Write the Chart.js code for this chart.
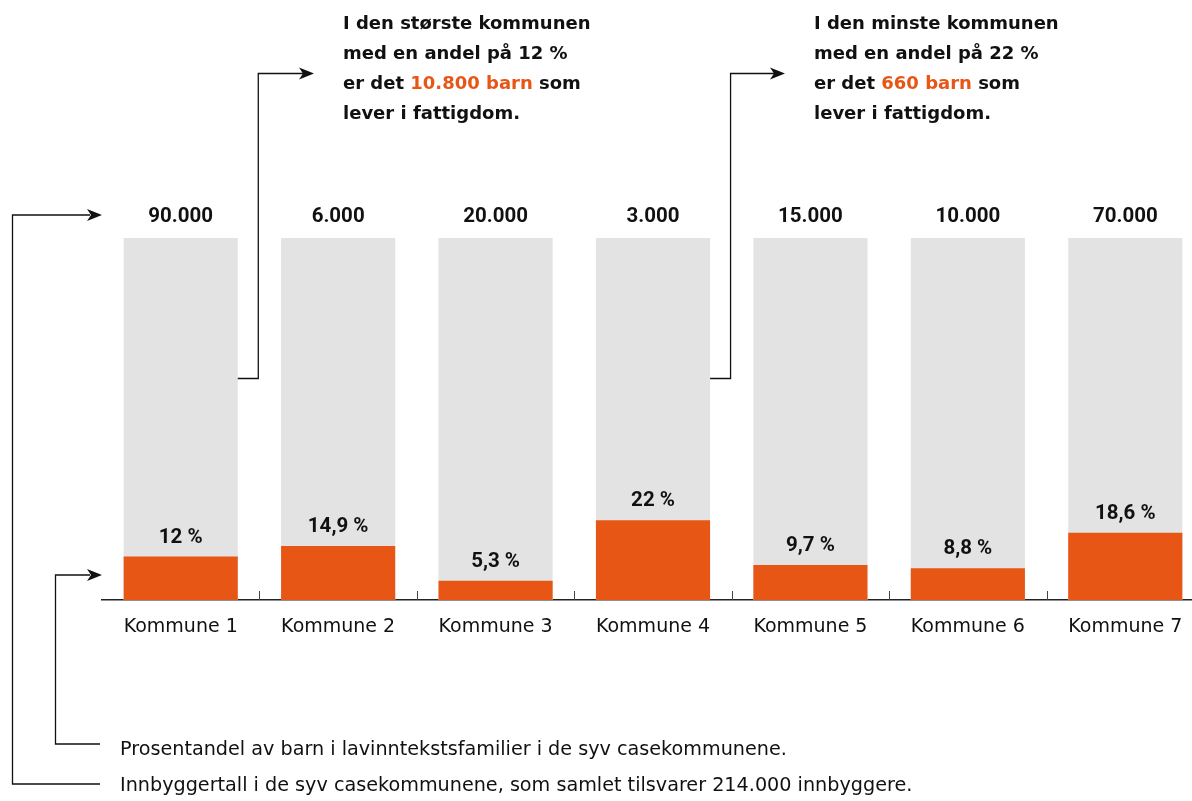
<!DOCTYPE html>
<html>
<head>
<meta charset="utf-8">
<script src="https://cdn.jsdelivr.net/npm/chart.js@4"></script>
<style>
  html, body { margin: 0; padding: 0; background: #fff; overflow: hidden; }
  #wrap { position: absolute; left: 0; top: 0; }
</style>
</head>
<body>
<div id="wrap"><canvas id="chart" width="1210" height="801"></canvas></div>
<script>
// data
const kommuner = ['Kommune 1', 'Kommune 2', 'Kommune 3', 'Kommune 4', 'Kommune 5', 'Kommune 6', 'Kommune 7'];
const innbyggere = [90000, 6000, 20000, 3000, 15000, 10000, 70000];
const andel = [12, 14.9, 5.3, 22, 9.7, 8.8, 18.6];
const fullBar = kommuner.map(() => 100);

const ORANGE = '#e85615';
const GREY = '#e2e3e2';
const INK = '#111';

function fmtNum(n) { return n.toString().replace(/\B(?=(\d{3})+(?!\d))/g, '.'); }
function fmtPct(p) { return p.toString().replace('.', ',') + ' %'; }

function arrowHead(ctx, x, y) {
  ctx.beginPath();
  ctx.moveTo(x, y);
  ctx.lineTo(x - 15, y - 6);
  ctx.lineTo(x - 11, y);
  ctx.lineTo(x - 15, y + 6);
  ctx.closePath();
  ctx.fill();
}

// draw a line of text made of [text, colour] runs
function richLine(ctx, runs, x, y) {
  runs.forEach(r => {
    ctx.fillStyle = r[1] || INK;
    ctx.fillText(r[0], x, y);
    x += ctx.measureText(r[0]).width;
  });
}

const overlay = {
  id: 'overlay',
  afterDraw(chart) {
    const ctx = chart.ctx;
    const xs = chart.scales.x;
    const area = chart.chartArea;
    const grey = chart.getDatasetMeta(0).data;
    const orange = chart.getDatasetMeta(1).data;
    ctx.save();

    // small tick marks between the categories
    ctx.strokeStyle = '#444';
    ctx.lineWidth = 1;
    for (let i = 1; i < kommuner.length; i++) {
      const x = Math.round((xs.getPixelForTick(i - 1) + xs.getPixelForTick(i)) / 2) + 0.5;
      ctx.beginPath();
      ctx.moveTo(x, area.bottom - 9);
      ctx.lineTo(x, area.bottom);
      ctx.stroke();
    }

    // value labels
    ctx.textAlign = 'center';
    ctx.textBaseline = 'middle';
    ctx.fillStyle = INK;
    ctx.font = 'bold 20.5px Roboto';
    grey.forEach((bar, i) => ctx.fillText(fmtNum(innbyggere[i]), bar.x, bar.y - 21));
    orange.forEach((bar, i) => ctx.fillText(fmtPct(andel[i]), bar.x, bar.y - 19));

    // connectors
    ctx.strokeStyle = '#111';
    ctx.fillStyle = '#111';
    ctx.lineWidth = 1.3;
    const top = grey[0].y;
    const bottom = area.bottom;

    // population bracket
    ctx.beginPath();
    ctx.moveTo(100, 784);
    ctx.lineTo(12.5, 784);
    ctx.lineTo(12.5, top - 23);
    ctx.lineTo(90, top - 23);
    ctx.stroke();
    arrowHead(ctx, 102, top - 23);

    // percentage bracket
    ctx.beginPath();
    ctx.moveTo(100, 744);
    ctx.lineTo(55.5, 744);
    ctx.lineTo(55.5, bottom - 25);
    ctx.lineTo(90, bottom - 25);
    ctx.stroke();
    arrowHead(ctx, 102, bottom - 25);

    // callouts from bar 1 and bar 4
    [[0, 343], [3, 814]].forEach(([i, tx]) => {
      const b = grey[i];
      const x0 = b.x + b.width / 2;
      const xv = x0 + 20.5;
      ctx.beginPath();
      ctx.moveTo(x0, 378.5);
      ctx.lineTo(xv, 378.5);
      ctx.lineTo(xv, 73.5);
      ctx.lineTo(tx - 40, 73.5);
      ctx.stroke();
      arrowHead(ctx, tx - 29, 73.5);
    });

    // callout texts
    ctx.textAlign = 'left';
    ctx.textBaseline = 'middle';
    ctx.font = 'bold 18px "DejaVu Sans"';
    const lh = 30;
    const t1 = [
      [['I den største kommunen']],
      [['med en andel på 12 %']],
      [['er det '], ['10.800 barn', ORANGE], [' som']],
      [['lever i fattigdom.']]
    ];
    const t2 = [
      [['I den minste kommunen']],
      [['med en andel på 22 %']],
      [['er det '], ['660 barn', ORANGE], [' som']],
      [['lever i fattigdom.']]
    ];
    t1.forEach((runs, k) => richLine(ctx, runs, 343, 24 + k * lh));
    t2.forEach((runs, k) => richLine(ctx, runs, 814, 24 + k * lh));

    // legend notes at the bottom
    ctx.font = '19.2px "DejaVu Sans"';
    ctx.fillStyle = INK;
    ctx.fillText('Prosentandel av barn i lavinntekstsfamilier i de syv casekommunene.', 120, 750);
    ctx.fillText('Innbyggertall i de syv casekommunene, som samlet tilsvarer 214.000 innbyggere.', 120, 786);

    ctx.restore();
  }
};

new Chart(document.getElementById('chart'), {
  type: 'bar',
  data: {
    labels: kommuner,
    datasets: [
      { label: 'Innbyggere', data: fullBar, backgroundColor: GREY, grouped: false, order: 2 },
      { label: 'Andel', data: andel, backgroundColor: ORANGE, grouped: false, order: 1 }
    ]
  },
  options: {
    responsive: false,
    animation: false,
    layout: { padding: { top: 238, left: 102, right: 6, bottom: 0 } },
    datasets: { bar: { barPercentage: 0.725, categoryPercentage: 1 } },
    plugins: { legend: { display: false }, tooltip: { enabled: false } },
    scales: {
      x: {
        grid: { display: false },
        border: { display: true, color: '#222', width: 1.5 },
        ticks: { color: INK, font: { family: 'DejaVu Sans', size: 19 }, padding: 8 },
        afterFit(scale) { scale.height = 201; }
      },
      y: { display: false, min: 0, max: 100 }
    }
  },
  plugins: [overlay]
});
</script>
</body>
</html>
